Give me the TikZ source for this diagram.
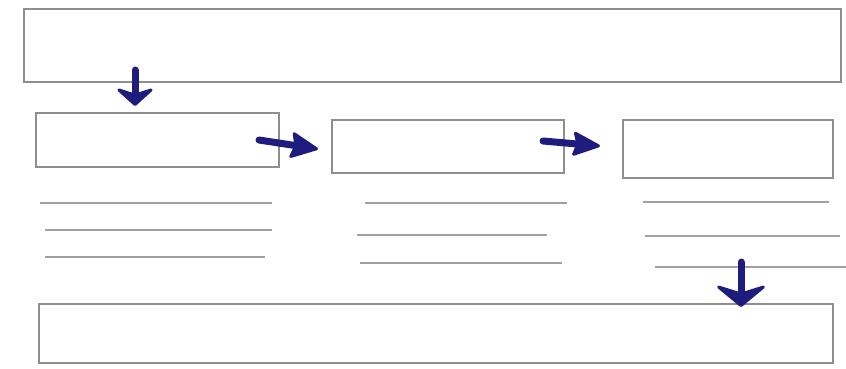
\documentclass[tikz,border=0pt]{standalone}
\usetikzlibrary{arrows.meta}
\definecolor{boxgray}{HTML}{8E8E8E}
\definecolor{rulegray}{HTML}{A0A0A0}
\definecolor{inknavy}{HTML}{1E1C7C}
\begin{document}
\begin{tikzpicture}[x=1pt,y=-1pt,
  panel/.style={draw=boxgray, line width=1.6pt, rectangle, inner sep=0pt, anchor=north west},
  rule/.style={draw=rulegray, line width=1.6pt},
  flow/.style n args={3}{draw=inknavy, line width=7pt, line cap=round,
    -{Stealth[length=#1,width=#2,inset=#3,line width=3pt,round,fill=inknavy]}}]
\useasboundingbox (0,0) rectangle (846,368);
% panels
\node[panel, minimum width=817pt, minimum height=73pt] (head) at (23,8) {};
\node[panel, minimum width=243pt, minimum height=54pt] (p1) at (35,112) {};
\node[panel, minimum width=232pt, minimum height=53pt] (p2) at (331,119) {};
\node[panel, minimum width=210pt, minimum height=58pt] (p3) at (622,119) {};
\node[panel, minimum width=794pt, minimum height=59pt] (foot) at (38,303) {};
% text rules under the panels
\draw[rule] (40,203) -- (272,203);
\draw[rule] (45,230) -- (272,230);
\draw[rule] (45,257) -- (265,257);
\draw[rule] (365,203) -- (567,203);
\draw[rule] (357,235) -- (547,235);
\draw[rule] (360,263) -- (562,263);
\draw[rule] (643,202) -- (829,202);
\draw[rule] (645,236) -- (840,236);
\draw[rule] (655,267) -- (846,267);
% arrow end points
\coordinate (a1s) at (135,70);
\coordinate (a1e) at (135,106);
\coordinate (a2s) at (259,140);
\coordinate (a2e) at (318,149);
\coordinate (a3s) at (543,141);
\coordinate (a3e) at (600,146);
\coordinate (a4s) at (741,262);
\coordinate (a4e) at (741,307);
% flow arrows
\draw[flow={20pt}{44pt}{7pt}] (a1s) -- (a1e);
\draw[flow={30pt}{28pt}{4pt}] (a2s) -- (a2e);
\draw[flow={30pt}{26pt}{4pt}] (a3s) -- (a3e);
\draw[flow={24pt}{58pt}{9pt}] (a4s) -- (a4e);
\end{tikzpicture}
\end{document}
